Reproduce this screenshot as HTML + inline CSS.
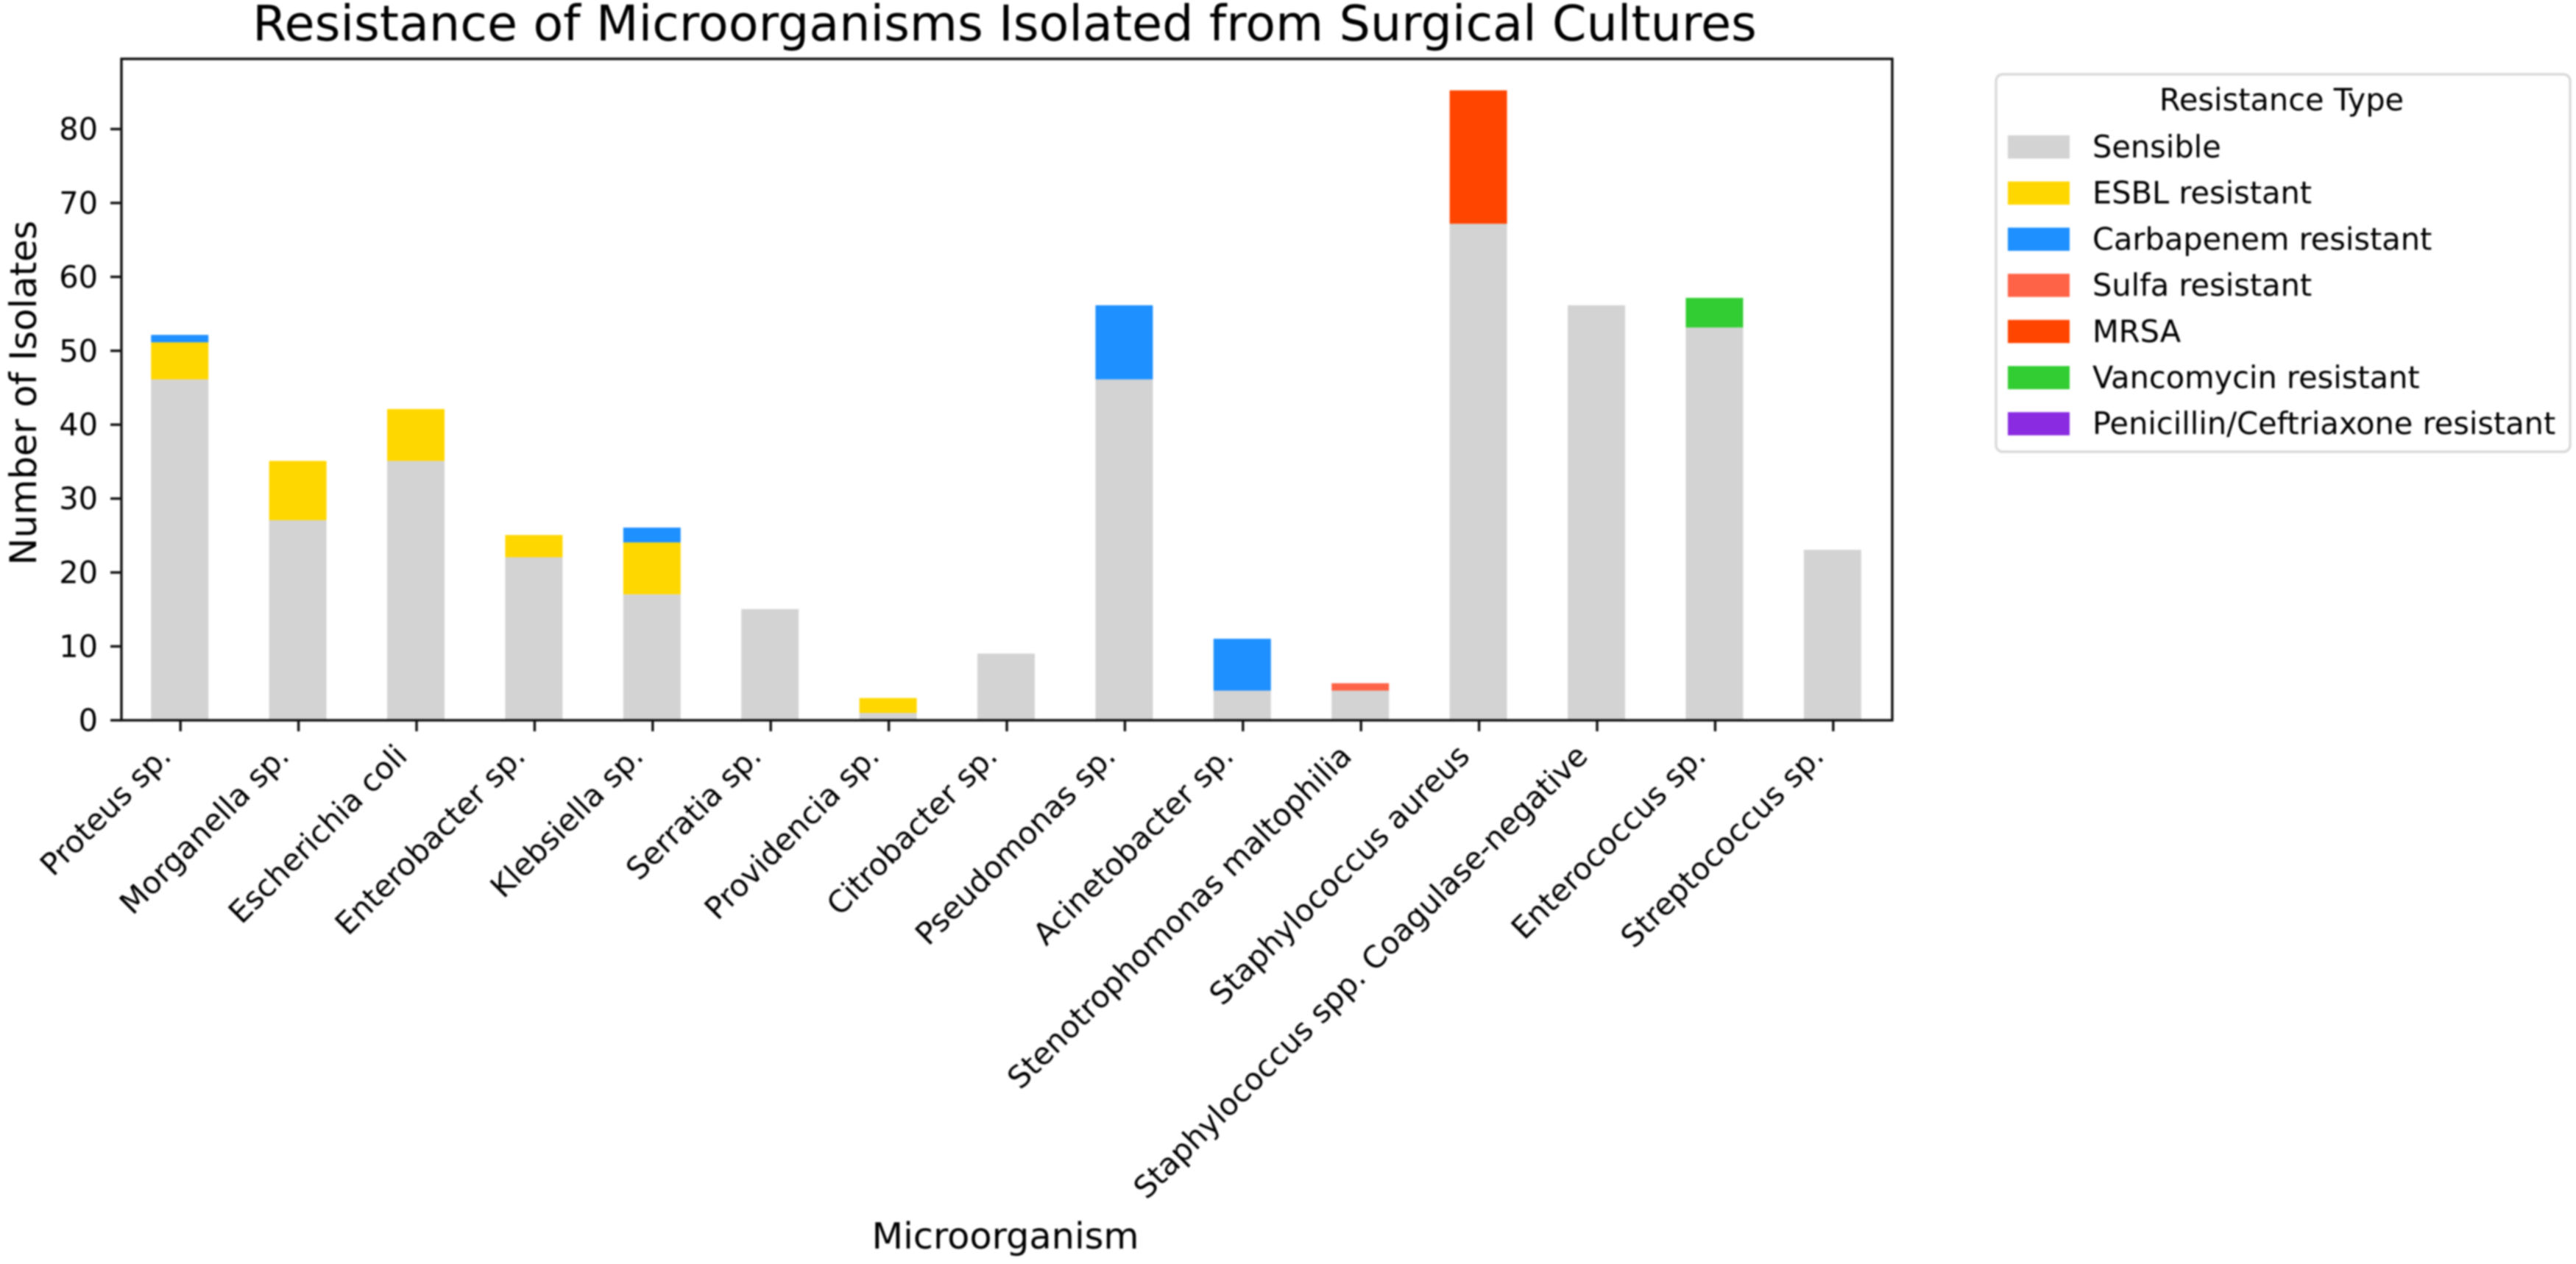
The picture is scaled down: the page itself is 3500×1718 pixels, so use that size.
<!DOCTYPE html>
<html lang="en">
<head>
<meta charset="utf-8">
<title>Resistance of Microorganisms Isolated from Surgical Cultures</title>
<style>
  html, body { margin: 0; padding: 0; background: #fff; }
  body { width: 3500px; height: 1718px; overflow: hidden; }
  svg { display: block; filter: blur(1.1px); }
  text { font-family: "DejaVu Sans", "Liberation Sans", sans-serif; fill: #000; }
</style>
</head>
<body>
<svg id="chart" xmlns="http://www.w3.org/2000/svg" width="3500" height="1718" viewBox="0 0 3500 1718">
  <rect x="0" y="0" width="3500" height="1718" fill="#ffffff"/>
  <text x="1365" y="55" font-size="66.8" text-anchor="middle">Resistance of Microorganisms Isolated from Surgical Cultures</text>
  <text transform="translate(49,534) rotate(-90)" font-size="49.5" text-anchor="middle">Number of Isolates</text>
  <text x="1366" y="1697" font-size="49.4" text-anchor="middle">Microorganism</text>
  <g id="bars"></g>
  <g id="y-axis"></g>
  <g id="x-axis"></g>
  <rect x="165" y="80" width="2406" height="899" fill="none" stroke="#111" stroke-width="3.4"/>
  <g id="legend">
    <rect x="2712" y="101" width="780" height="513" rx="9" ry="9" fill="#ffffff" stroke="#d9d9d9" stroke-width="3.4"/>
    <text x="3100" y="150" font-size="41.5" text-anchor="middle">Resistance Type</text>
  </g>
</svg>
<script>
const categories = ["Proteus sp.", "Morganella sp.", "Escherichia coli", "Enterobacter sp.", "Klebsiella sp.", "Serratia sp.", "Providencia sp.", "Citrobacter sp.", "Pseudomonas sp.", "Acinetobacter sp.", "Stenotrophomonas maltophilia", "Staphylococcus aureus", "Staphylococcus spp. Coagulase-negative", "Enterococcus sp.", "Streptococcus sp."];
const seriesNames = ["Sensible", "ESBL resistant", "Carbapenem resistant", "Sulfa resistant", "MRSA", "Vancomycin resistant", "Penicillin/Ceftriaxone resistant"];
const seriesColors = ["#d3d3d3", "#ffd700", "#1e90ff", "#ff6347", "#ff4500", "#32cd32", "#8a2be2"];
const sensible = [46, 27, 35, 22, 17, 15, 1, 9, 46, 4, 4, 67, 56, 53, 23];
const esbl = [5, 8, 7, 3, 7, 0, 2, 0, 0, 0, 0, 0, 0, 0, 0];
const carbapenem = [1, 0, 0, 0, 2, 0, 0, 0, 10, 7, 0, 0, 0, 0, 0];
const sulfa = [0, 0, 0, 0, 0, 0, 0, 0, 0, 0, 1, 0, 0, 0, 0];
const mrsa = [0, 0, 0, 0, 0, 0, 0, 0, 0, 0, 0, 18, 0, 0, 0];
const vancomycin = [0, 0, 0, 0, 0, 0, 0, 0, 0, 0, 0, 0, 0, 4, 0];
const penicillin = [0, 0, 0, 0, 0, 0, 0, 0, 0, 0, 0, 0, 0, 0, 0];
const yTicks = [0, 10, 20, 30, 40, 50, 60, 70, 80];

const NS = "http://www.w3.org/2000/svg";
const plot = { left: 165, right: 2571, top: 80, bottom: 979 };
const yMax = 89.25;
const yTickMax = 89.5;
const barFraction = 0.486;
const barShift = -1;
const allSeries = [sensible, esbl, carbapenem, sulfa, mrsa, vancomycin, penicillin];

function xScale(i) {
  const band = (plot.right - plot.left) / categories.length;
  return plot.left + band * (i + 0.5);
}
function yScale(v) {
  return plot.bottom - (v / yMax) * (plot.bottom - plot.top);
}
function yTickScale(v) {
  return plot.bottom - (v / yTickMax) * (plot.bottom - plot.top);
}
function make(tag, attrs, text) {
  const el = document.createElementNS(NS, tag);
  for (const k in attrs) el.setAttribute(k, attrs[k]);
  if (text !== undefined) el.textContent = text;
  return el;
}
function slug(s) {
  return s.toLowerCase().replace(/[^a-z0-9]+/g, "-").replace(/^-|-$/g, "");
}

const barsGroup = document.getElementById("bars");
const band = (plot.right - plot.left) / categories.length;
const barWidth = band * barFraction;
categories.forEach(function (cat, i) {
  let base = 0;
  allSeries.forEach(function (values, s) {
    const v = values[i];
    if (!v) return;
    const yTop = yScale(base + v);
    const yBottom = yScale(base);
    const bar = make("rect", { x: xScale(i) + barShift - barWidth / 2, y: yTop, width: barWidth, height: yBottom - yTop, fill: seriesColors[s] });
    
    
    barsGroup.appendChild(bar);
    base += v;
  });
});

const yAxis = document.getElementById("y-axis");
yTicks.forEach(function (t) {
  const y = yTickScale(t);
  const tick = make("line", { x1: plot.left - 15, x2: plot.left, y1: y, y2: y, stroke: "#111", "stroke-width": 3.4 });
  
  
  yAxis.appendChild(tick);
  const label = make("text", { x: plot.left - 32, y: y + 14.5, "font-size": 41.5, "text-anchor": "end" }, String(t));
  
  
  yAxis.appendChild(label);
});

const xAxis = document.getElementById("x-axis");
categories.forEach(function (cat, i) {
  const x = xScale(i);
  const tick = make("line", { x1: x, x2: x, y1: plot.bottom, y2: plot.bottom + 15, stroke: "#111", "stroke-width": 3.4 });
  
  
  xAxis.appendChild(tick);
  const label = make("text", { transform: "translate(" + (x - 10.5) + "," + (plot.bottom + 51) + ") rotate(-45)", "font-size": 41.5, "text-anchor": "end" }, cat);
  
  
  xAxis.appendChild(label);
});

const legend = document.getElementById("legend");
seriesNames.forEach(function (name, s) {
  const top = 184 + 62.7 * s;
  const swatch = make("rect", { x: 2728, y: top, width: 84, height: 31.5, fill: seriesColors[s] });
  
  
  legend.appendChild(swatch);
  const label = make("text", { x: 2843, y: top + 30, "font-size": 41.5 }, name);
  
  
  legend.appendChild(label);
});
</script>
</body>
</html>
